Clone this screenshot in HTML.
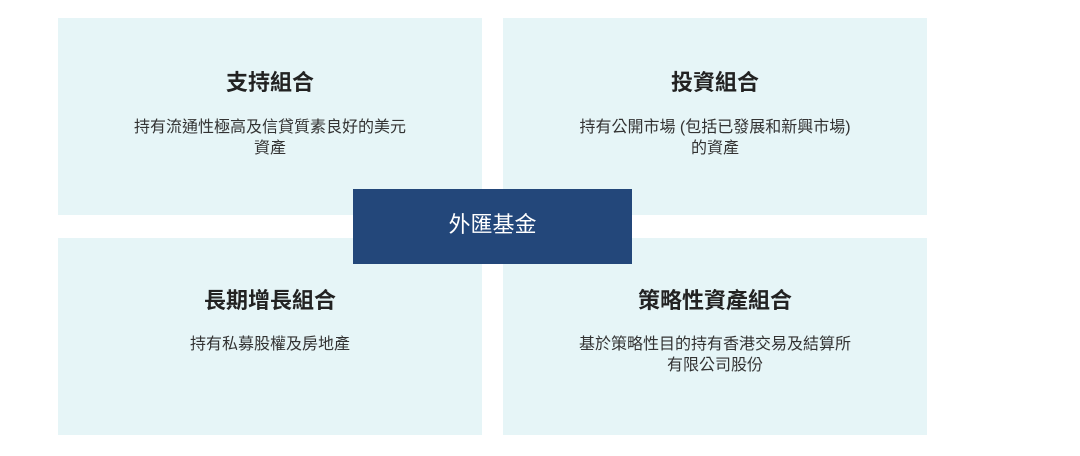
<!DOCTYPE html>
<html><head><meta charset="utf-8"><style>
body{margin:0;width:1080px;height:456px;background:#fff;position:relative;overflow:hidden;font-family:"Liberation Sans","Noto Sans CJK TC",sans-serif}
.b{position:absolute;width:424px;height:197px;background:#e6f5f7;text-align:center;color:#222}
.t{position:absolute;left:0;right:0;font-size:22px;font-weight:bold;line-height:26px}
.d{position:absolute;left:20px;right:20px;font-size:16px;line-height:21px;color:#333}
.c{position:absolute;left:353px;top:189px;width:279px;height:75px;background:#23477a;color:#fff;font-size:22px;line-height:72px;text-align:center}
</style></head><body>
<div class="b" style="left:58px;top:18px"><div class="t" style="top:52px">支持組合</div><div class="d" style="top:99px">持有流通性極高及信貸質素良好的美元<br>資產</div></div>
<div class="b" style="left:503px;top:18px"><div class="t" style="top:52px">投資組合</div><div class="d" style="top:99px">持有公開市場 (包括已發展和新興市場)<br>的資產</div></div>
<div class="b" style="left:58px;top:238px"><div class="t" style="top:50px">長期增長組合</div><div class="d" style="top:96px">持有私募股權及房地產</div></div>
<div class="b" style="left:503px;top:238px"><div class="t" style="top:50px">策略性資產組合</div><div class="d" style="top:96px">基於策略性目的持有香港交易及結算所<br>有限公司股份</div></div>
<div class="c">外匯基金</div>
</body></html>
